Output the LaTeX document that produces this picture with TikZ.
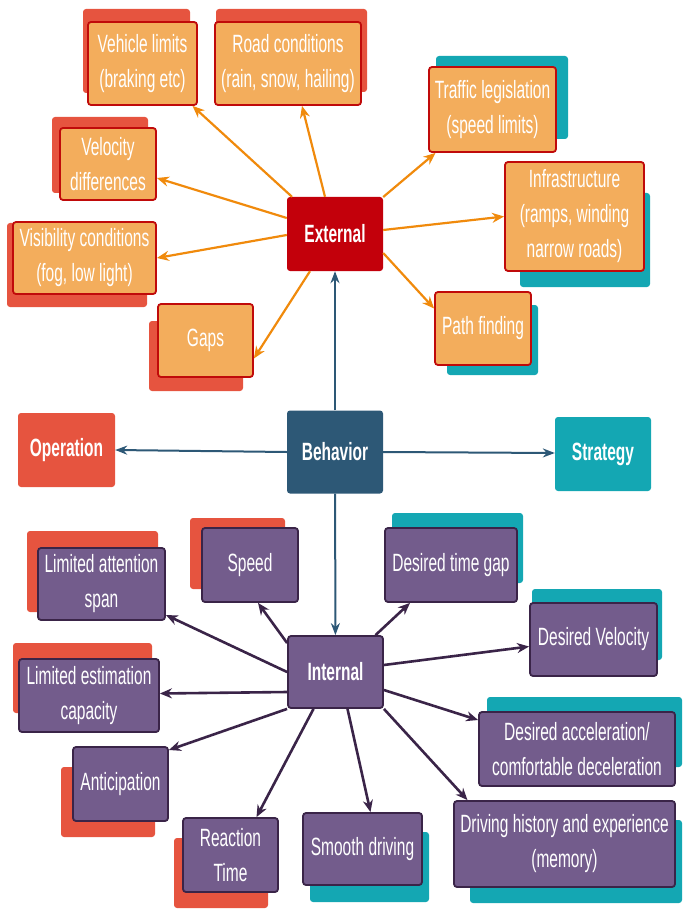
\documentclass[tikz,border=0pt]{standalone}
\usepackage{fontspec}
\setmainfont{Liberation Sans}[FakeStretch=0.62]
\usetikzlibrary{arrows.meta}
\definecolor{lorange}{HTML}{F3AD5C}
\definecolor{dred}{HTML}{C3000B}
\definecolor{bred}{HTML}{C00A0A}
\definecolor{coral}{HTML}{E6543F}
\definecolor{teal}{HTML}{14A7B3}
\definecolor{navy}{HTML}{2D5876}
\definecolor{purp}{HTML}{735C8C}
\definecolor{dpurp}{HTML}{3A2448}
\definecolor{arrorange}{HTML}{F08A0C}
\tikzset{
  base/.style={rounded corners=3pt, text=white, align=center, inner sep=0pt,
    font=\fontsize{25}{35}\selectfont},
  obox/.style={base, fill=lorange, draw=bred, line width=1.8pt},
  pbox/.style={base, fill=purp, draw=dpurp, line width=1.8pt},
  hub/.style={base, font=\bfseries\fontsize{25}{35}\selectfont},
  shadowbox/.style={rounded corners=3pt, inner sep=0pt},
  oarr/.style={draw=arrorange, line width=2.2pt, -{Stealth[length=12pt,width=10pt]}},
  barr/.style={draw=navy, line width=2pt, -{Stealth[length=12pt,width=9pt]}},
  parr/.style={draw=dpurp, line width=2.6pt, -{Stealth[length=12pt,width=10pt]}}
}
\newcommand{\shbox}[5]{\node[shadowbox, fill=#1, minimum width=#4, minimum height=#5] at (#2,#3) {};}
\begin{document}
\begin{tikzpicture}[x=1pt,y=-1pt]
\useasboundingbox (0,0) rectangle (682,909);
% shadows
\shbox{coral}{136.5}{51}{107pt}{84pt}
\shbox{coral}{291.5}{50.5}{151pt}{83pt}
\shbox{coral}{100}{155}{96pt}{76pt}
\shbox{coral}{77}{265}{140pt}{84pt}
\shbox{coral}{196}{356}{94pt}{70pt}
\shbox{teal}{502}{97.5}{132pt}{83pt}
\shbox{teal}{585}{240}{130pt}{94pt}
\shbox{teal}{492.5}{340}{91pt}{70pt}
\shbox{coral}{92.5}{571.5}{131pt}{81pt}
\shbox{coral}{237.5}{553.5}{95pt}{71pt}
\shbox{coral}{82.5}{678}{139pt}{70pt}
\shbox{coral}{108}{802}{94pt}{70pt}
\shbox{coral}{221}{873}{94pt}{70pt}
\shbox{teal}{369.5}{867}{119pt}{70pt}
\shbox{teal}{457.5}{548}{131pt}{70pt}
\shbox{teal}{597}{624.5}{130pt}{71pt}
\shbox{teal}{584.5}{732}{195pt}{70pt}
\shbox{teal}{576}{861.5}{212pt}{83pt}
% external cluster
\node[hub, fill=dred, minimum width=96pt, minimum height=74pt] (ext) at (335,234) {External};
\node[obox, minimum width=109pt, minimum height=83pt] (veh) at (142.5,63.5) {Vehicle limits\\(braking etc)};
\node[obox, minimum width=146pt, minimum height=83pt] (road) at (288,63.5) {Road conditions\\(rain, snow, hailing)};
\node[obox, minimum width=96pt, minimum height=72pt] (velo) at (108,164) {Velocity\\differences};
\node[obox, minimum width=143pt, minimum height=72pt] (vis) at (84.5,258) {Visibility conditions\\(fog, low light)};
\node[obox, minimum width=95pt, minimum height=73pt] (gaps) at (205.5,340.5) {Gaps};
\node[obox, minimum width=127pt, minimum height=85pt] (traf) at (492.5,109.5) {Traffic legislation\\(speed limits)};
\node[obox, minimum width=139pt, minimum height=109pt] (infra) at (574.5,216.5) {Infrastructure\\(ramps, winding\\narrow roads)};
\node[obox, minimum width=96pt, minimum height=73pt] (path) at (483,328.5) {Path finding};
% middle row
\node[hub, fill=coral, minimum width=97pt, minimum height=74pt] (oper) at (66.5,450) {Operation};
\node[hub, fill=navy, minimum width=96pt, minimum height=83pt] (beh) at (335,452) {Behavior};
\node[hub, fill=teal, minimum width=96pt, minimum height=74pt] (strat) at (603,454) {Strategy};
% internal cluster
\node[hub, fill=purp, draw=dpurp, line width=1.8pt, minimum width=95pt, minimum height=72pt] (int) at (335.5,672) {Internal};
\node[pbox, minimum width=127pt, minimum height=72pt] (lat) at (101.5,584) {Limited attention\\span};
\node[pbox, minimum width=96pt, minimum height=74pt] (speed) at (250,565) {Speed};
\node[pbox, minimum width=140pt, minimum height=73pt] (lec) at (89,695.5) {Limited estimation\\capacity};
\node[pbox, minimum width=95pt, minimum height=74pt] (anti) at (120.5,784) {Anticipation};
\node[pbox, minimum width=95pt, minimum height=74pt] (react) at (230.5,855) {Reaction\\Time};
\node[pbox, minimum width=119pt, minimum height=72pt] (smooth) at (362.5,849) {Smooth driving};
\node[pbox, minimum width=132pt, minimum height=74pt] (dtg) at (451,565) {Desired time gap};
\node[pbox, minimum width=127pt, minimum height=73pt] (dv) at (593.5,639.5) {Desired Velocity};
\node[pbox, minimum width=196pt, minimum height=74pt] (dacc) at (577,749) {Desired acceleration/\\comfortable deceleration};
\node[pbox, minimum width=221pt, minimum height=86pt] (dhist) at (564.5,844) {Driving history and experience\\(memory)};
% external arrows
\draw[oarr] ([xshift=-43pt]ext.north) -- ([xshift=50pt]veh.south);
\draw[oarr] ([xshift=-10pt]ext.north) -- ([xshift=14pt]road.south);
\draw[oarr] ([yshift=16pt]ext.west) -- ([yshift=-14pt]velo.east);
\draw[oarr] ([yshift=-1pt]ext.west) -- (vis.east);
\draw[oarr] ([xshift=-25pt]ext.south) -- ([yshift=-18pt]gaps.east);
\draw[oarr] ([yshift=37pt]ext.east) -- ([xshift=-57pt]traf.south);
\draw[oarr] ([yshift=4pt]ext.east) -- (infra.west);
\draw[oarr] ([yshift=-19pt]ext.east) -- ([yshift=20pt]path.west);
% behavior arrows
\draw[barr] (beh) -- (ext);
\draw[barr] (beh) -- (int);
\draw[barr] (beh.west) -- (oper.east);
\draw[barr] (beh.east) -- ([yshift=1pt]strat.west);
% internal arrows
\draw[parr] (int.west) -- ([yshift=-31pt]lat.east);
\draw[parr] ([yshift=29pt]int.west) -- ([xshift=8pt]speed.south);
\draw[parr] ([yshift=-20pt]int.west) -- ([yshift=2pt]lec.east);
\draw[parr] (int.south west) -- ([yshift=34pt]anti.east);
\draw[parr] ([xshift=-22pt]int.south) -- ([xshift=26pt]react.north);
\draw[parr] ([xshift=12pt]int.south) -- ([xshift=8pt]smooth.north);
\draw[parr] ([xshift=40pt]int.north) -- ([xshift=-41pt]dtg.south);
\draw[parr] ([yshift=7pt]int.east) -- ([yshift=-7pt]dv.west);
\draw[parr] ([yshift=-18pt]int.east) -- ([yshift=29pt]dacc.west);
\draw[parr] (int.south east) -- ([xshift=-97pt]dhist.north);
\end{tikzpicture}
\end{document}
